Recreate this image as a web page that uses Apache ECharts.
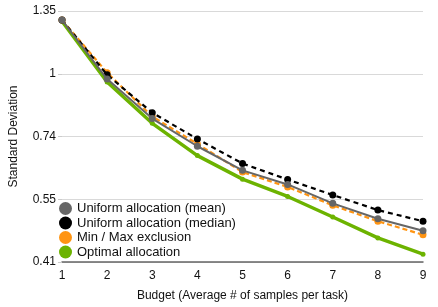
<!DOCTYPE html>
<html><head><meta charset="utf-8">
<script src="https://cdn.jsdelivr.net/npm/echarts@6/dist/echarts.min.js"></script>
<style>html,body{margin:0;padding:0;background:#fff}#c{width:438px;height:307px}</style>
</head><body><div id="c"></div>
<script>
var budgets = [1,2,3,4,5,6,7,8,9];
var uniformMean = [1.293,0.975,0.807,0.707,0.630,0.589,0.538,0.500,0.472];
var uniformMedian = [1.293,0.995,0.830,0.732,0.651,0.603,0.560,0.521,0.494];
var minMaxExclusion = [1.293,1.005,0.815,0.715,0.625,0.582,0.533,0.494,0.463];
var optimalAllocation = [1.285,0.961,0.789,0.676,0.604,0.556,0.504,0.456,0.422];
var seriesNames = ['Uniform allocation (mean)','Uniform allocation (median)','Min / Max exclusion','Optimal allocation'];
var yMin = Math.pow(1.35,-3), yMax = 1.35;

function pts(arr){ return budgets.map(function(b,i){ return [b, arr[i]]; }); }
var font = 'Liberation Sans, Helvetica, Arial, sans-serif';
var chart = echarts.init(document.getElementById('c'), null, {renderer:'canvas'});
chart.setOption({
  animation:false,
  grid:{left:56,right:15,top:11,bottom:45},
  legend:{
    data:seriesNames, orient:'vertical', left:57, top:200, itemGap:1.5,
    itemWidth:13, itemHeight:13, icon:'circle',
    textStyle:{fontFamily:font,fontSize:13,color:'#111',padding:[0,0,0,0]},
    padding:[2,4,2,2]
  },
  xAxis:{
    type:'value', min:1, max:9, interval:1,
    name:'Budget (Average # of samples per task)', nameLocation:'middle', nameGap:28,
    nameTextStyle:{fontFamily:font,fontSize:12,color:'#111'},
    axisLine:{show:true,lineStyle:{color:'#666',width:1.5}},
    axisTick:{show:false}, splitLine:{show:false},
    axisLabel:{fontFamily:font,fontSize:12,color:'#111',margin:8}
  },
  yAxis:{
    type:'log', logBase:1.35, min:yMin, max:yMax,
    name:'Standard Deviation', nameLocation:'middle', nameGap:42, nameRotate:90,
    nameTextStyle:{fontFamily:font,fontSize:12,color:'#111'},
    axisLine:{show:false},
    axisTick:{show:true,length:4,lineStyle:{color:'#ccc'}},
    splitLine:{show:true,lineStyle:{color:'#d9d9d9',width:1}},
    axisLabel:{fontFamily:font,fontSize:12,color:'#111',margin:6,
      formatter:function(v){ return String(+v.toFixed(2)); }}
  },
  series:[
    {name:seriesNames[3],type:'line',data:pts(optimalAllocation),color:'#6cb300',
     lineStyle:{width:3.5},symbol:'circle',symbolSize:5,z:2},
    {name:seriesNames[2],type:'line',data:pts(minMaxExclusion),color:'#ff9412',
     lineStyle:{width:2.2,type:[5,3]},symbol:'circle',symbolSize:7,z:3},
    {name:seriesNames[1],type:'line',data:pts(uniformMedian),color:'#000',
     lineStyle:{width:2.2,type:[5,4]},symbol:'circle',symbolSize:7,z:4},
    {name:seriesNames[0],type:'line',data:pts(uniformMean),color:'#666',
     lineStyle:{width:2},symbol:'circle',symbolSize:7,z:5}
  ]
});
</script></body></html>
